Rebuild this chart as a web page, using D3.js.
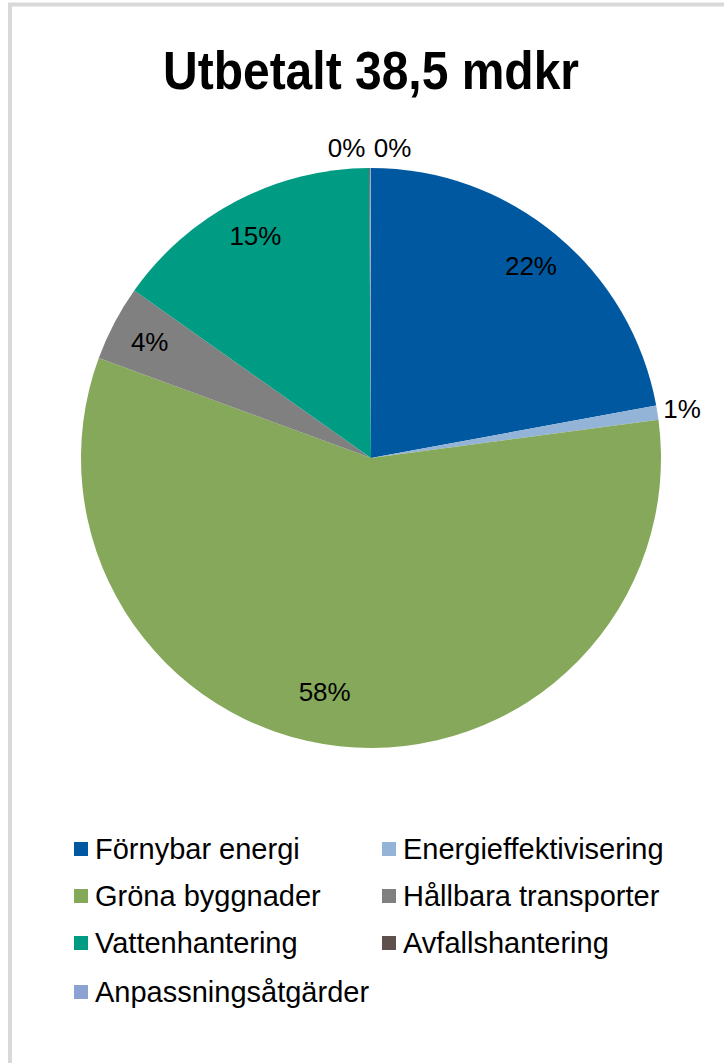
<!DOCTYPE html>
<html>
<head>
<meta charset="utf-8">
<script src="https://cdn.jsdelivr.net/npm/d3@7"></script>
<style>
  body { margin: 0; background: #fff; }
  svg text { font-family: "Liberation Sans", Arial, sans-serif; fill: #000; }
</style>
</head>
<body>
<div id="chart"></div>
<script>
// andelar i procent av utbetalt belopp
const categories = ["Förnybar energi", "Energieffektivisering", "Gröna byggnader",
  "Hållbara transporter", "Vattenhantering", "Avfallshantering", "Anpassningsåtgärder"];
const shares = [22.1, 0.8, 57.7, 4.2, 15.1, 0.05, 0.05];
const colors = ["#0059a0", "#93b3d7", "#86a85a", "#808080", "#009b83", "#5e514d", "#8ba2d3"];
const title = "Utbetalt 38,5 mdkr";

const width = 724, height = 1063;
const cx = 371, cy = 458, radius = 290;

const svg = d3.select("#chart")
  .append("svg")
  .attr("width", width)
  .attr("height", height);

// ram
svg.append("rect")
  .attr("x", 10).attr("y", 4.5)
  .attr("width", 760).attr("height", 1100)
  .attr("fill", "#fff")
  .attr("stroke", "#d9d9d9")
  .attr("stroke-width", 4);

svg.append("text")
  .attr("transform", "translate(371,89) scale(1,1.1)")
  .attr("text-anchor", "middle")
  .style("font-size", "48px")
  .style("font-weight", "bold")
  .text(title);

const data = categories.map((c, i) => ({ name: c, value: shares[i], color: colors[i] }));

const pie = d3.pie().value(d => d.value).sort(null);
const arcs = pie(data);
const arc = d3.arc().innerRadius(0).outerRadius(radius);
const inLabel = d3.arc().innerRadius(250).outerRadius(250);
const outLabel = d3.arc().innerRadius(315).outerRadius(315);

const g = svg.append("g").attr("transform", `translate(${cx},${cy})`);

g.selectAll("path")
  .data(arcs)
  .join("path")
  .attr("d", arc)
  .attr("fill", d => d.data.color);

const fmt = v => Math.round(v) + "%";
let tinyCount = 0;

g.selectAll("text.lbl")
  .data(arcs)
  .join("text")
  .attr("class", "lbl")
  .attr("text-anchor", "middle")
  .attr("dominant-baseline", "central")
  .style("font-size", "26px")
  .attr("transform", d => {
    if (d.data.value >= 2) {
      const c = inLabel.centroid(d);
      // stora tårtbiten: etiketten lite närmare mitten, som i Excel
      if (d.data.value > 50) return `translate(${c[0] * 0.96 - 20},${c[1] * 0.96 - 5})`;
      return `translate(${c[0]},${c[1]})`;
    }
    const c = outLabel.centroid(d);
    if (d.data.value < 0.5) {
      const shift = tinyCount++ === 0 ? -23 : 22;
      return `translate(${c[0] + shift},${c[1] + 5})`;
    }
    return `translate(${c[0]},${c[1]})`;
  })
  .text(d => fmt(d.data.value));

// förklaring
const legend = svg.append("g");
const colX = [74, 382];
const rowY = [849, 896, 943, 992];

const items = legend.selectAll("g")
  .data(data)
  .join("g")
  .attr("transform", (d, i) => `translate(${colX[i % 2]},${rowY[Math.floor(i / 2)]})`);

items.append("rect")
  .attr("x", 0).attr("y", -7)
  .attr("width", 14).attr("height", 14)
  .attr("fill", d => d.color);

items.append("text")
  .attr("x", 21).attr("y", 0)
  .attr("dominant-baseline", "central")
  .style("font-size", "29px")
  .text(d => d.name);
</script>
</body>
</html>
